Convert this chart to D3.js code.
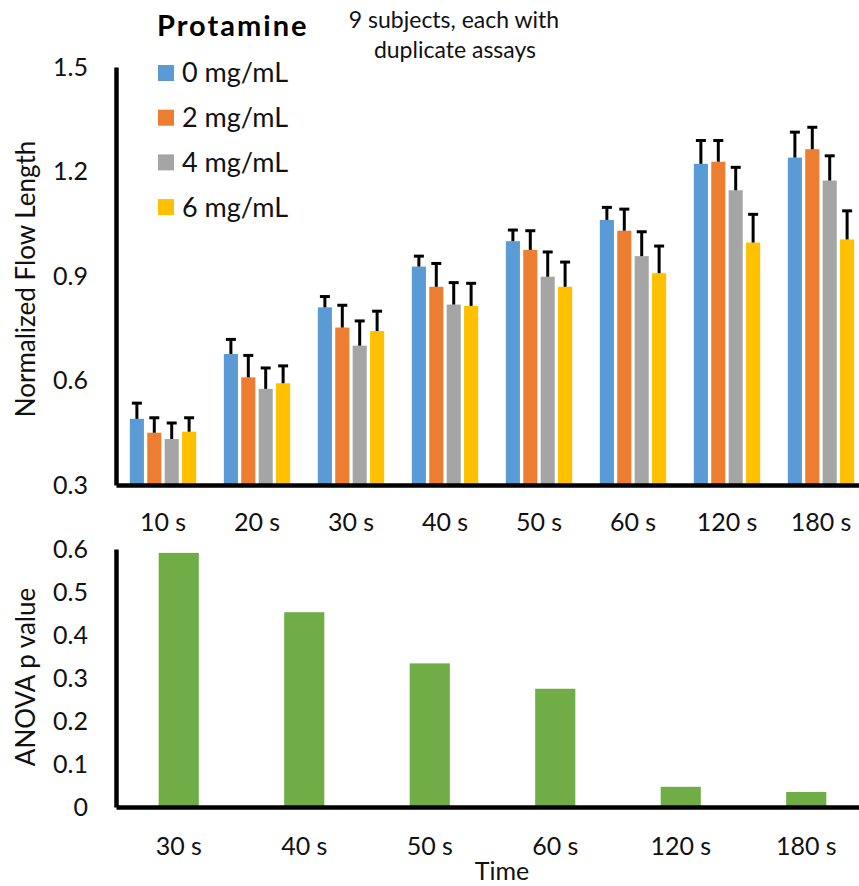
<!DOCTYPE html>
<html>
<head>
<meta charset="utf-8">
<script src="https://cdn.jsdelivr.net/npm/d3@7"></script>
<style>
  body { margin: 0; background: #fff; }
  svg { display: block; font-family: Lato, "Open Sans", sans-serif; }
  .axis text { fill: #111; }
</style>
</head>
<body>
<script>
// data
const times = ["10 s", "20 s", "30 s", "40 s", "50 s", "60 s", "120 s", "180 s"]
const doses = ["0 mg/mL", "2 mg/mL", "4 mg/mL", "6 mg/mL"]
const colors = ["#5B9BD5", "#ED7D31", "#A5A5A5", "#FFC000"]

const flow0 = [0.490, 0.676, 0.810, 0.927, 1.000, 1.061, 1.222, 1.240]
const flow2 = [0.450, 0.609, 0.752, 0.869, 0.975, 1.030, 1.228, 1.264]
const flow4 = [0.432, 0.576, 0.700, 0.818, 0.898, 0.957, 1.146, 1.174]
const flow6 = [0.453, 0.592, 0.742, 0.814, 0.869, 0.908, 0.996, 1.005]

const err0 = [0.045, 0.042, 0.031, 0.030, 0.032, 0.036, 0.067, 0.073]
const err2 = [0.043, 0.063, 0.064, 0.067, 0.055, 0.062, 0.061, 0.063]
const err4 = [0.046, 0.060, 0.071, 0.063, 0.071, 0.070, 0.066, 0.071]
const err6 = [0.040, 0.050, 0.057, 0.065, 0.071, 0.078, 0.081, 0.082]

const flowTicks = [0.3, 0.6, 0.9, 1.2, 1.5]

const anovaTimes = ["30 s", "40 s", "50 s", "60 s", "120 s", "180 s"]
const pValues = [0.591, 0.453, 0.334, 0.275, 0.047, 0.035]
const pTicks = [0, 0.1, 0.2, 0.3, 0.4, 0.5, 0.6]

const flows = [flow0, flow2, flow4, flow6]
const errs = [err0, err2, err4, err6]

const svg = d3.select("body").append("svg")
  .attr("width", 859)
  .attr("height", 886)

// ---------- top chart: flow length ----------
const x0 = d3.scaleBand()
  .domain(times)
  .range([116, 868])
  .paddingInner(0.287)
  .paddingOuter(0.1435)

const x1 = d3.scaleBand()
  .domain(doses)
  .range([0, x0.bandwidth()])
  .paddingInner(0.19)
  .paddingOuter(0.02)

const y = d3.scaleLinear()
  .domain([0.3, 1.5])
  .range([485, 67])

const rows = []
times.forEach((t, i) => {
  doses.forEach((d, j) => {
    rows.push({ time: t, dose: d, k: j, v: flows[j][i], e: errs[j][i] })
  })
})

svg.append("g")
  .selectAll("rect")
  .data(rows)
  .enter()
  .append("rect")
  .attr("x", d => x0(d.time) + x1(d.dose))
  .attr("y", d => y(d.v))
  .attr("width", x1.bandwidth())
  .attr("height", d => y(0.3) - y(d.v))
  .attr("fill", d => colors[d.k])

// error bars (upper only)
const eb = svg.append("g")
  .attr("stroke", "#000")
  .attr("stroke-width", 3)
  .selectAll("g")
  .data(rows)
  .enter()
  .append("g")
  .attr("transform", d => "translate(" + (x0(d.time) + x1(d.dose) + x1.bandwidth() / 2) + ",0)")

eb.append("line")
  .attr("y1", d => y(d.v))
  .attr("y2", d => y(d.v + d.e))
eb.append("line")
  .attr("x1", -5)
  .attr("x2", 5)
  .attr("y1", d => y(d.v + d.e))
  .attr("y2", d => y(d.v + d.e))

svg.append("g")
  .attr("class", "axis")
  .attr("transform", "translate(116,0)")
  .call(d3.axisLeft(y).tickValues(flowTicks).tickSize(0).tickPadding(28).tickFormat(d3.format(".1f")))
  .call(g => g.selectAll("text").attr("font-size", 25).attr("font-family", "Lato"))
  .call(g => g.select(".domain").attr("stroke", "#000").attr("stroke-width", 4.5))

svg.append("g")
  .attr("class", "axis")
  .attr("transform", "translate(0,485)")
  .call(d3.axisBottom(x0).tickSize(0).tickPadding(28))
  .call(g => g.selectAll("text").attr("font-size", 25).attr("font-family", "Lato"))
  .call(g => g.select(".domain").attr("stroke", "#000").attr("stroke-width", 4.5))

svg.append("text")
  .attr("transform", "translate(35,279) rotate(-90)")
  .attr("text-anchor", "middle")
  .attr("font-size", 26)
  .attr("fill", "#111")
  .text("Normalized Flow Length")

// title
svg.append("text")
  .attr("x", 454).attr("y", 28)
  .attr("text-anchor", "middle")
  .attr("font-size", 23)
  .attr("fill", "#111")
  .text("9 subjects, each with")
svg.append("text")
  .attr("x", 455).attr("y", 58)
  .attr("text-anchor", "middle")
  .attr("font-size", 23)
  .attr("fill", "#111")
  .text("duplicate assays")

// legend
svg.append("text")
  .attr("x", 157).attr("y", 36)
  .attr("font-size", 29)
  .attr("font-weight", "bold")
  .attr("letter-spacing", 2)
  .attr("fill", "#000")
  .text("Protamine")

const leg = svg.append("g")
  .selectAll("g")
  .data(doses)
  .enter()
  .append("g")
  .attr("transform", (d, i) => "translate(158," + (73 + i * 44.7) + ")")

leg.append("rect")
  .attr("x", 0).attr("y", -8)
  .attr("width", 16).attr("height", 16)
  .attr("fill", (d, i) => colors[i])
leg.append("text")
  .attr("x", 24).attr("y", 0)
  .attr("dy", "0.35em")
  .attr("font-size", 27)
  .attr("fill", "#111")
  .text(d => d)

// ---------- bottom chart: ANOVA p ----------
const xb = d3.scaleBand()
  .domain(anovaTimes)
  .range([116, 869])
  .paddingInner(0.68)
  .paddingOuter(0.34)

const yb = d3.scaleLinear()
  .domain([0, 0.6])
  .range([807, 549])

svg.append("g")
  .selectAll("rect")
  .data(pValues)
  .enter()
  .append("rect")
  .attr("x", (d, i) => xb(anovaTimes[i]))
  .attr("y", d => yb(d))
  .attr("width", xb.bandwidth())
  .attr("height", d => yb(0) - yb(d))
  .attr("fill", "#70AD47")

svg.append("g")
  .attr("class", "axis")
  .attr("transform", "translate(116,0)")
  .call(d3.axisLeft(yb).tickValues(pTicks).tickSize(0).tickPadding(28).tickFormat(d => d === 0 ? "0" : d3.format(".1f")(d)))
  .call(g => g.selectAll("text").attr("font-size", 25).attr("font-family", "Lato"))
  .call(g => g.select(".domain").attr("stroke", "#000").attr("stroke-width", 4.5))

svg.append("g")
  .attr("class", "axis")
  .attr("transform", "translate(0,807)")
  .call(d3.axisBottom(xb).tickSize(0).tickPadding(30))
  .call(g => g.selectAll("text").attr("font-size", 25).attr("font-family", "Lato"))
  .call(g => g.select(".domain").attr("stroke", "#000").attr("stroke-width", 4.5))

svg.append("text")
  .attr("transform", "translate(35,677) rotate(-90)")
  .attr("text-anchor", "middle")
  .attr("font-size", 26)
  .attr("fill", "#111")
  .text("ANOVA p value")

svg.append("text")
  .attr("x", 502).attr("y", 880)
  .attr("text-anchor", "middle")
  .attr("font-size", 25)
  .attr("fill", "#111")
  .text("Time")
</script>
</body>
</html>
